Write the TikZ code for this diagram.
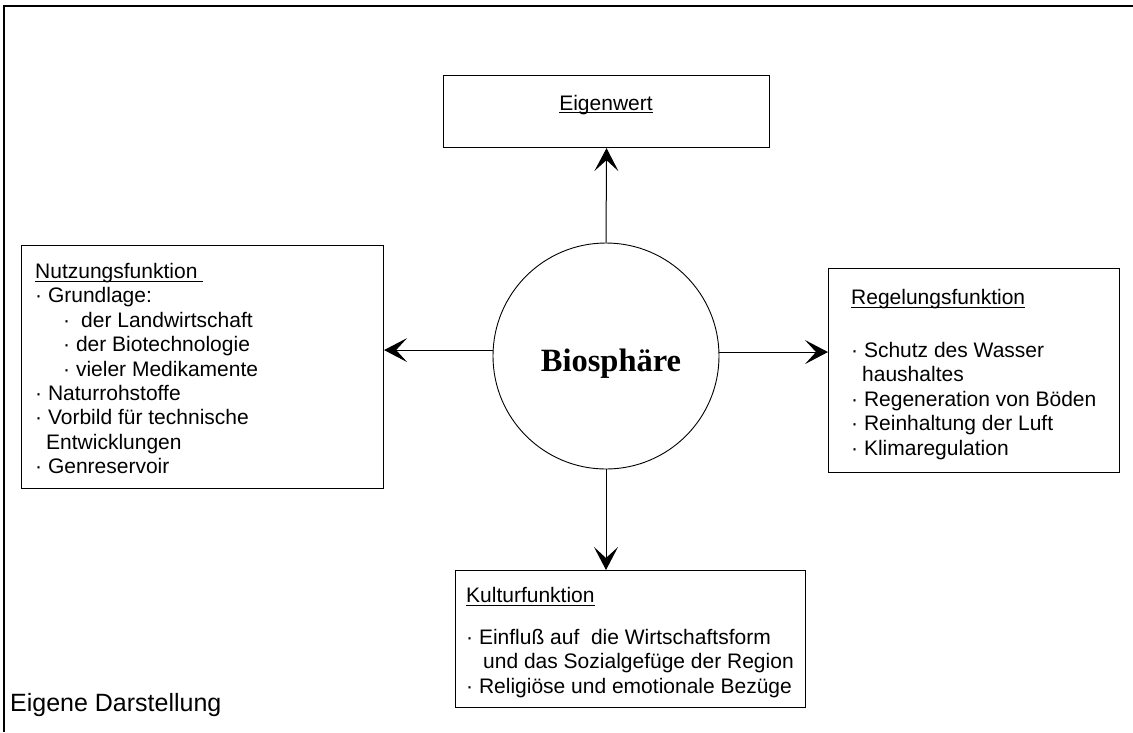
\documentclass[tikz,border=0pt]{standalone}
\usepackage{fontspec}
\setmainfont{Liberation Sans}
\newfontfamily\bioserif{Liberation Serif}
\usetikzlibrary{arrows.meta}
\newcommand\myul[1]{\setbox0\hbox{#1}\rlap{\rule[-3.3pt]{\wd0}{1pt}}\box0}
\begin{document}
\begin{tikzpicture}[x=1pt,y=-1pt,
  box/.style={draw, line width=1.1pt, rectangle, inner sep=0pt, anchor=north west},
  txt/.style={anchor=north west, inner sep=0pt, align=left, font=\fontsize{21}{24.4}\selectfont},
  arr/.style={line width=1pt, -{Stealth[length=23pt,width=24pt,inset=11pt]}},
  frame/.style={line width=2pt}
]
\useasboundingbox (0,0) rectangle (1133,732);
% outer frame
\coordinate (fbl) at (4,732);
\coordinate (ftl) at (4,6);
\coordinate (ftr) at (1133,6);
\draw[frame] (fbl) -- (ftl) -- (ftr);

% boxes
\node[box, minimum width=326pt, minimum height=72pt] (eig) at (443,75) {};
\node[box, minimum width=362pt, minimum height=243pt] (nutz) at (21,245) {};
\node[box, minimum width=291pt, minimum height=204pt] (reg) at (828,268) {};
\node[box, minimum width=350pt, minimum height=137pt] (kult) at (455,570) {};

% circle
\node[circle, draw, line width=0.9pt, minimum size=226pt, inner sep=0pt] (bio) at (606,356) {};
\node[anchor=base, inner sep=0pt, font=\bioserif\bfseries\fontsize{32.5}{36}\selectfont] (biolabel) at (611,371) {Biosphäre};

% texts
\node[anchor=base, inner sep=0pt, font=\fontsize{21}{24.4}\selectfont] (eigtxt) at (606,110) {\myul{Eigenwert}};

\node[txt] (nutztxt) at (35,263) {\myul{Nutzungsfunktion\ }\\
· Grundlage:\\
\hspace{28pt}·\hspace{11pt}der Landwirtschaft\\
\hspace{28pt}· der Biotechnologie\\
\hspace{28pt}· vieler Medikamente\\
· Naturrohstoffe\\
· Vorbild für technische\\
\hspace{11pt}Entwicklungen\\
· Genreservoir};

\node[txt] (regtxt) at (851,289) {\myul{Regelungsfunktion}\\[28.6pt]
· Schutz des Wasser\\
\hspace{11pt}haushaltes\\
· Regeneration von Böden\\
· Reinhaltung der Luft\\
· Klimaregulation};

\node[txt] (kulttxt) at (466,587) {\myul{Kulturfunktion}\\[17.6pt]
· Einfluß auf\ \ die Wirtschaftsform\\
\hspace{17pt}und das Sozialgefüge der Region\\
· Religiöse und emotionale Bezüge};

\node[anchor=base west, inner sep=0pt, font=\fontsize{25}{29}\selectfont] (source) at (10,711) {Eigene Darstellung};

% arrows
\draw[arr] (bio.north) -- (eig.south);
\draw[arr] (bio.south) -- (bio.south |- kult.north);
\draw[arr] (bio.177.5) -- (bio.177.5 -| nutz.east);
\draw[arr] (bio.2.5) -- (bio.2.5 -| reg.west);
\end{tikzpicture}
\end{document}
